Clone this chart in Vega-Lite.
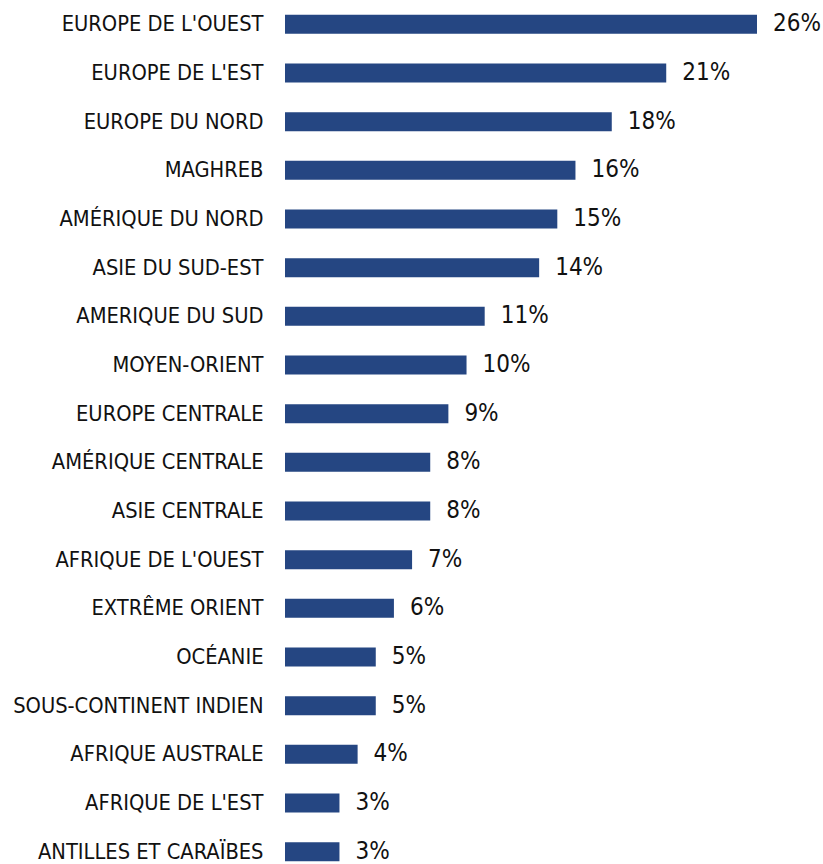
{
  "$schema": "https://vega.github.io/schema/vega-lite/v6.json",
  "autosize": "none",
  "width": 472,
  "height": 876,
  "padding": {"left": 285, "top": 0, "right": 66, "bottom": 0},
  "background": "white",
  "config": {"view": {"stroke": null}},
  "data": {
    "values": [
      {"region": "EUROPE DE L'OUEST", "pct": 26, "label": "26%"},
      {"region": "EUROPE DE L'EST", "pct": 21, "label": "21%"},
      {"region": "EUROPE DU NORD", "pct": 18, "label": "18%"},
      {"region": "MAGHREB", "pct": 16, "label": "16%"},
      {"region": "AMÉRIQUE DU NORD", "pct": 15, "label": "15%"},
      {"region": "ASIE DU SUD-EST", "pct": 14, "label": "14%"},
      {"region": "AMERIQUE DU SUD", "pct": 11, "label": "11%"},
      {"region": "MOYEN-ORIENT", "pct": 10, "label": "10%"},
      {"region": "EUROPE CENTRALE", "pct": 9, "label": "9%"},
      {"region": "AMÉRIQUE CENTRALE", "pct": 8, "label": "8%"},
      {"region": "ASIE CENTRALE", "pct": 8, "label": "8%"},
      {"region": "AFRIQUE DE L'OUEST", "pct": 7, "label": "7%"},
      {"region": "EXTRÊME ORIENT", "pct": 6, "label": "6%"},
      {"region": "OCÉANIE", "pct": 5, "label": "5%"},
      {"region": "SOUS-CONTINENT INDIEN", "pct": 5, "label": "5%"},
      {"region": "AFRIQUE AUSTRALE", "pct": 4, "label": "4%"},
      {"region": "AFRIQUE DE L'EST", "pct": 3, "label": "3%"},
      {"region": "ANTILLES ET CARAÏBES", "pct": 3, "label": "3%"}
    ]
  },
  "encoding": {
    "y": {
      "field": "region",
      "type": "nominal",
      "sort": null,
      "scale": {"paddingInner": 0.61, "paddingOuter": 0.305},
      "axis": {
        "title": null,
        "domain": false,
        "ticks": false,
        "labelFont": "DejaVu Sans Condensed",
        "labelFontSize": 21.7,
        "labelColor": "#111111",
        "labelPadding": 22,
        "labelLimit": 400
      }
    },
    "x": {
      "field": "pct",
      "type": "quantitative",
      "scale": {"domain": [0, 26], "nice": false, "zero": true},
      "axis": null
    }
  },
  "layer": [
    {"mark": {"type": "bar", "color": "#254682"}},
    {
      "mark": {
        "type": "text",
        "align": "left",
        "baseline": "middle",
        "dx": 16,
        "font": "DejaVu Sans Condensed",
        "fontSize": 24,
        "color": "#111111"
      },
      "encoding": {"text": {"field": "label", "type": "nominal"}}
    }
  ]
}
